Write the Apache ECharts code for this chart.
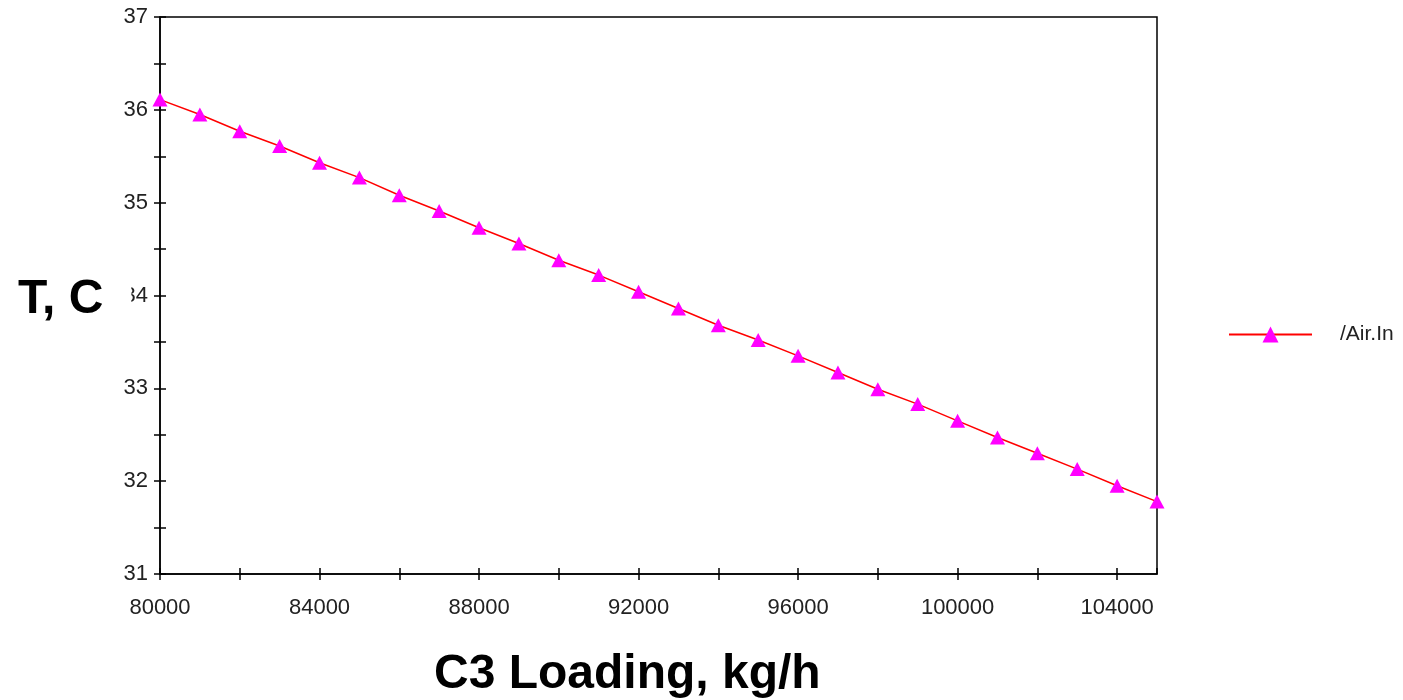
<!DOCTYPE html>
<html><head><meta charset="utf-8">
<script src="https://cdn.jsdelivr.net/npm/echarts@6/dist/echarts.min.js"></script>
<style>html,body{margin:0;padding:0;background:#fff}#c{width:1403px;height:700px}</style>
</head><body><div id="c"></div>
<script>
const loading = [80000,81000,82000,83000,84000,85000,86000,87000,88000,89000,90000,91000,92000,93000,94000,95000,96000,97000,98000,99000,100000,101000,102000,103000,104000,105000];
const temperature = [36.11,35.95,35.77,35.61,35.43,35.27,35.08,34.91,34.73,34.56,34.38,34.22,34.04,33.86,33.68,33.52,33.35,33.17,32.99,32.83,32.65,32.47,32.30,32.13,31.95,31.78];
const seriesName = '/Air.In';
const xTitle = 'C3 Loading, kg/h';
const yTitle = 'T, C';

const chart = echarts.init(document.getElementById('c'));
const lblFont = {fontFamily:'Liberation Sans, Arial, sans-serif', fontSize:22, color:'#222'};
chart.setOption({
  animation:false,
  grid:{left:160, right:246, top:17, bottom:126, show:true, borderColor:'#000', borderWidth:1.5},
  legend:{
    data:[seriesName], left:1228, top:324, orient:'vertical', padding:0,
    itemWidth:83, itemHeight:20, itemGap:10,
    textStyle:{fontFamily:'Liberation Sans, Arial, sans-serif', fontSize:21, color:'#222', padding:[0,0,0,23]}
  },
  xAxis:[{
    type:'value', min:80000, max:105000, interval:2000,
    axisLine:{lineStyle:{color:'#000', width:1.5}},
    axisTick:{show:true, length:6, lineStyle:{color:'#000', width:1.5}},
    axisLabel:{...lblFont, margin:23, showMaxLabel:false,
      formatter:v => (v % 4000 === 0) ? String(v) : ''},
    splitLine:{show:false}
  },{
    type:'value', min:80000, max:105000, interval:2000, position:'bottom',
    axisLine:{show:false}, axisTick:{show:true, inside:true, length:6, lineStyle:{color:'#000', width:1.5}},
    axisLabel:{show:false}, splitLine:{show:false}
  }],
  yAxis:[{
    type:'value', min:31, max:37, interval:1,
    axisLine:{show:true, lineStyle:{color:'#000', width:1.5}},
    axisTick:{show:true, length:6, lineStyle:{color:'#000', width:1.5}},
    minorTick:{show:true, splitNumber:2, length:6, lineStyle:{color:'#000', width:1.5}},
    axisLabel:{...lblFont, margin:12},
    splitLine:{show:false}
  },{
    type:'value', min:31, max:37, interval:0.5, position:'left',
    axisLine:{show:false},
    axisTick:{show:true, inside:true, length:6, lineStyle:{color:'#000', width:1.5}},
    axisLabel:{show:false}, splitLine:{show:false}
  }],
  series:[{
    name:seriesName, type:'line',
    data:loading.map((x,i)=>[x, temperature[i]]),
    symbol:'triangle', symbolSize:[15,14], showAllSymbol:true,
    lineStyle:{color:'#ff0000', width:1.5},
    itemStyle:{color:'#ff00ff'},
    clip:false
  }],
  graphic:[
    {type:'text', left:18, top:276, z:100, zlevel:1, style:{text:yTitle, font:'bold 48px "Liberation Sans", Arial, sans-serif', fill:'#000', backgroundColor:'#fff', padding:[0,28,0,0]}},
    {type:'text', left:434, top:651, style:{text:xTitle, font:'bold 48px "Liberation Sans", Arial, sans-serif', fill:'#000'}}
  ]
});
</script></body></html>
